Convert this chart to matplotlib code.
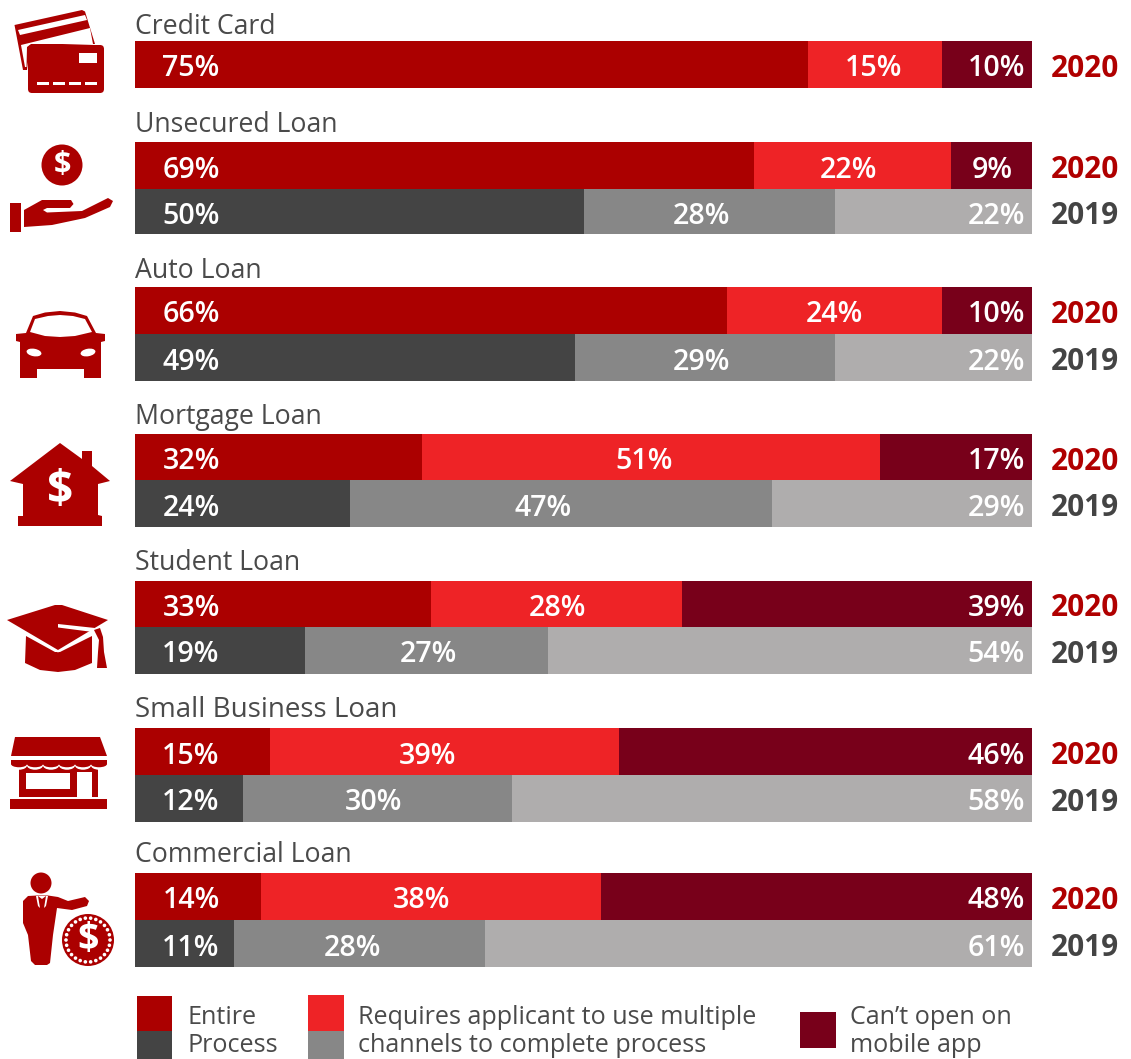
import matplotlib
matplotlib.use("Agg")
import matplotlib.pyplot as plt
from matplotlib.patches import Polygon, Circle, Rectangle, FancyBboxPatch, Ellipse
import math

W, H = 1131, 1059
FONT = "Open Sans"
plt.rcParams["font.family"] = [FONT, "DejaVu Sans"]

categories = ["Credit Card", "Unsecured Loan", "Auto Loan", "Mortgage Loan",
              "Student Loan", "Small Business Loan", "Commercial Loan"]
entire_2020 = [75, 69, 66, 32, 33, 15, 14]
multi_2020 = [15, 22, 24, 51, 28, 39, 38]
cant_2020 = [10, 9, 10, 17, 39, 46, 48]
entire_2019 = [None, 50, 49, 24, 19, 12, 11]
multi_2019 = [None, 28, 29, 47, 27, 30, 28]
cant_2019 = [None, 22, 22, 29, 54, 58, 61]
year_labels = ["2020", "2019"]

RED, BRIGHT, MAROON = "#AB0000", "#EE2326", "#78001A"
DARK, MID, LIGHT = "#444444", "#878787", "#AFADAD"
TXT = "#4A4A4A"
YR20 = "#B00000"

# layout (pixels)
top_2020 = [(41, 88), (142, 189), (287, 334), (434, 480), (581, 627), (728, 775), (873, 920)]
top_2019 = [None, (189, 234), (334, 381), (480, 527), (627, 674), (775, 822), (920, 967)]
title_y = [27, 125, 271, 417, 563, 710, 855]
title_size = [19.2, 19.2, 19.2, 19.2, 19.2, 20.0, 19.2]
mid_x_2020 = [874, 848, 834, 644, 557, 428, 421]
mid_x_2019 = [None, 701, 701, 543, 428, 374, 352]
X0, X1 = 135, 1032

fig = plt.figure(figsize=(W / 100, H / 100), dpi=100)
ax = fig.add_axes([X0 / W, 0, (X1 - X0) / W, 1])
ax.set_xlim(0, 100)
ax.set_ylim(H, 0)
ax.axis("off")
ov = fig.add_axes([0, 0, 1, 1], facecolor="none")
ov.set_xlim(0, W)
ov.set_ylim(H, 0)
ov.axis("off")

LBL = dict(color="white", fontsize=20.6, fontweight=600, va="center")


def draw_row(vals, span, cols, midx, yl, ycol):
    y0, y1 = span
    c = (y0 + y1) / 2
    left = 0
    for v, col in zip(vals, cols):
        ax.barh(c, v, left=left, height=y1 - y0, color=col, linewidth=0)
        left += v
    t = c + 4.5
    ov.text(191, t, f"{vals[0]}%", ha="center", **LBL)
    ov.text(midx, t, f"{vals[1]}%", ha="center", **LBL)
    rx = 1012.5 if vals[2] < 10 else 1025
    ov.text(rx, t, f"{vals[2]}%", ha="right", **LBL)
    ov.text(1119, c + 4.5, yl, ha="right", va="center", color=ycol, fontsize=21.4, fontweight=700)


for i, name in enumerate(categories):
    ov.text(X0, title_y[i], name, ha="left", va="center", color=TXT, fontsize=title_size[i])
    draw_row((entire_2020[i], multi_2020[i], cant_2020[i]), top_2020[i],
             (RED, BRIGHT, MAROON), mid_x_2020[i], year_labels[0], YR20)
    if entire_2019[i] is not None:
        draw_row((entire_2019[i], multi_2019[i], cant_2019[i]), top_2019[i],
                 (DARK, MID, LIGHT), mid_x_2019[i], year_labels[1], DARK)


# --- icons ---
def poly(pts, col=RED, **k):
    ov.add_patch(Polygon(pts, closed=True, facecolor=col, edgecolor="none", **k))


def rect(x0, y0, x1, y1, col=RED):
    ov.add_patch(Rectangle((x0, y0), x1 - x0, y1 - y0, facecolor=col, edgecolor="none"))


def circ(x, y, r, col=RED):
    ov.add_patch(Circle((x, y), r, facecolor=col, edgecolor="none"))


def rrect(x0, y0, x1, y1, r, col=RED):
    ov.add_patch(FancyBboxPatch((x0 + r, y0 + r), x1 - x0 - 2 * r, y1 - y0 - 2 * r,
                                boxstyle=f"round,pad={r}", facecolor=col, edgecolor="none"))


# credit card
poly([(14.5, 25), (82, 10), (85, 11.5), (95, 44), (30, 46), (27, 70), (23, 70)])
poly([(21, 45), (90, 28), (93, 44), (31, 44), (27, 47), (26.5, 67), (25, 67)], "white")
poly([(18, 30), (85, 15), (87, 20), (20, 35)], "white")
rrect(28, 45, 104, 93, 4)
rect(79, 53, 97, 63, "white")
for a in (37, 53, 69, 85):
    rect(a, 81.5, a + 12, 84.5, "white")

# hand
circ(62, 165, 20.5)
ov.text(62, 165, "$", color="white", fontsize=22, fontweight="bold", ha="center", va="center")
rect(10, 203, 20.5, 232)
poly([(24, 210), (42, 200), (71, 200), (73.5, 204), (70, 208), (47, 208), (43, 210), (47, 212.5),
      (82, 211), (108, 198), (113, 201), (110, 207), (85, 218), (52, 225), (24, 227)])

# car
poly([(26, 333), (33, 316), (45, 312.5), (60, 311), (75, 312.5), (87, 316), (96, 333),
      (105, 334), (105, 341), (101, 342), (101, 378), (84, 378), (84, 369), (37, 369),
      (37, 378), (20, 378), (20, 342), (16, 341), (16, 334)])
poly([(30, 332), (35, 319), (48, 316), (60, 315), (73, 316), (85, 319), (92, 332),
      (75, 336), (60, 337), (45, 336)], "white")
ov.add_patch(Ellipse((34, 352.5), 15, 7.5, angle=10, facecolor="white", edgecolor="none"))
ov.add_patch(Ellipse((88, 352.5), 15, 7.5, angle=-10, facecolor="white", edgecolor="none"))

# house
poly([(10, 481), (60, 443), (82, 459), (82, 451), (92, 451), (92, 466), (110, 481),
      (98, 484), (98, 515), (102, 516), (102, 526), (18, 526), (18, 516), (23, 516), (23, 484)])
ov.text(60, 492, "$", color="white", fontsize=33, fontweight="bold", ha="center", va="center")

# graduation cap
poly([(26, 636), (55, 652), (60, 652), (92, 636), (92, 663), (75, 670), (58, 672), (40, 670), (25, 663)])
poly([(4, 620), (55, 603), (62, 603), (111, 620), (58, 652.5)], "white")
poly([(7, 620), (55, 605), (62, 605), (108, 620), (58, 650)])
poly([(58, 624), (95, 628), (103, 640), (96, 642), (93, 632), (58, 627.5)], "white")
poly([(94, 630), (100, 628), (103, 637), (104, 652), (107, 668), (97, 668), (98, 652), (99, 640)])

# shop
poly([(15, 737), (100, 737), (107, 756), (11, 756)])
rect(19, 765, 98, 797)
for a in range(6):
    ov.add_patch(Ellipse((19 + 16 * a, 765), 16.5, 9.5, facecolor="white", edgecolor="none"))
rect(11, 760, 107, 764)
for a in range(6):
    ov.add_patch(Ellipse((19 + 16 * a, 764), 16, 6.5, facecolor=RED, edgecolor="none"))
rect(26, 773, 70, 789, "white")
rect(77, 772, 92, 798, "white")
rect(10, 799, 107, 809)

# businessman and coin
circ(41, 883, 10.5)
poly([(23, 901), (28, 896), (37, 895.5), (48, 895.5), (58, 897), (68, 901), (85, 897), (89, 901),
      (87, 906), (72, 910), (57, 908), (53, 935), (50, 963), (47, 965), (35, 965), (31, 961),
      (28, 935), (23, 923)])
poly([(36, 896), (38, 896), (40, 908), (38, 906)], "white")
poly([(48, 896), (46, 896), (44, 908), (46, 906)], "white")
poly([(38, 896), (46, 896), (42, 899)], "white")
circ(88, 940, 26)
for k in range(26):
    a = 2 * math.pi * k / 26
    circ(88 + 22 * math.cos(a), 940 + 22 * math.sin(a), 1.8, "white")
ov.text(88, 940, "$", color="white", fontsize=27, fontweight="bold", ha="center", va="center")

# --- legend ---
rect(137, 996, 172, 1031, RED)
rect(137, 1031, 172, 1060, DARK)
rect(308, 995, 344, 1031, BRIGHT)
rect(308, 1031, 344, 1060, MID)
rect(800, 1012, 836, 1048, MAROON)
LEG = dict(color=TXT, fontsize=18.1, ha="left", va="center")
ov.text(187, 1018, "Entire", **LEG)
ov.text(187, 1045.5, "Process", **LEG)
ov.text(358, 1018, "Requires applicant to use multiple", **LEG)
ov.text(358, 1045.5, "channels to complete process", **LEG)
ov.text(850, 1018, "Can\u2019t open on", **LEG)
ov.text(850, 1045.5, "mobile app", **LEG)

fig.savefig("out.png", dpi=100)
